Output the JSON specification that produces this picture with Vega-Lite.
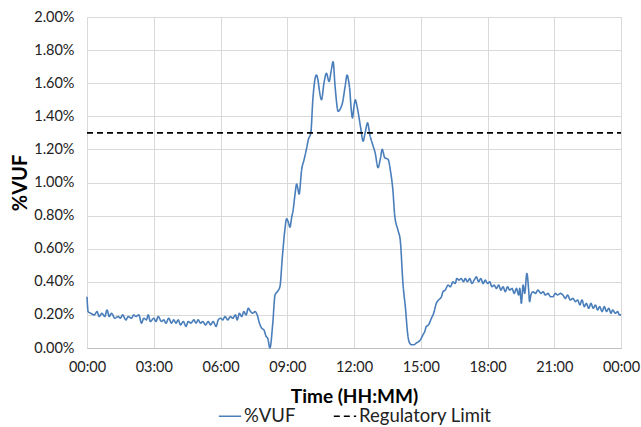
{
  "$schema": "https://vega.github.io/schema/vega-lite/v6.json",
  "width": 534,
  "height": 331,
  "autosize": {"type": "none"},
  "padding": {"left": 87, "top": 17, "right": 20, "bottom": 79},
  "background": "white",
  "config": {"font": "Lato", "view": {"stroke": null}},
  "data": {"values": [
    {"h":0.00,"v":0.31,"s":"%VUF"},{"h":0.05,"v":0.22,"s":"%VUF"},{"h":0.17,"v":0.21,"s":"%VUF"},{"h":0.33,"v":0.20,"s":"%VUF"},{"h":0.45,"v":0.22,"s":"%VUF"},{"h":0.55,"v":0.19,"s":"%VUF"},{"h":0.67,"v":0.21,"s":"%VUF"},{"h":0.80,"v":0.19,"s":"%VUF"},{"h":0.90,"v":0.23,"s":"%VUF"},{"h":1.00,"v":0.19,"s":"%VUF"},
    {"h":1.10,"v":0.21,"s":"%VUF"},{"h":1.25,"v":0.18,"s":"%VUF"},{"h":1.40,"v":0.19,"s":"%VUF"},{"h":1.50,"v":0.18,"s":"%VUF"},{"h":1.60,"v":0.20,"s":"%VUF"},{"h":1.75,"v":0.17,"s":"%VUF"},{"h":1.85,"v":0.19,"s":"%VUF"},{"h":2.00,"v":0.18,"s":"%VUF"},{"h":2.10,"v":0.20,"s":"%VUF"},{"h":2.20,"v":0.19,"s":"%VUF"},
    {"h":2.33,"v":0.20,"s":"%VUF"},{"h":2.45,"v":0.15,"s":"%VUF"},{"h":2.55,"v":0.18,"s":"%VUF"},{"h":2.67,"v":0.17,"s":"%VUF"},{"h":2.75,"v":0.20,"s":"%VUF"},{"h":2.85,"v":0.16,"s":"%VUF"},{"h":3.00,"v":0.18,"s":"%VUF"},{"h":3.10,"v":0.16,"s":"%VUF"},{"h":3.20,"v":0.19,"s":"%VUF"},{"h":3.35,"v":0.16,"s":"%VUF"},
    {"h":3.45,"v":0.17,"s":"%VUF"},{"h":3.55,"v":0.15,"s":"%VUF"},{"h":3.67,"v":0.18,"s":"%VUF"},{"h":3.80,"v":0.15,"s":"%VUF"},{"h":3.90,"v":0.17,"s":"%VUF"},{"h":4.00,"v":0.15,"s":"%VUF"},{"h":4.10,"v":0.17,"s":"%VUF"},{"h":4.20,"v":0.14,"s":"%VUF"},{"h":4.33,"v":0.16,"s":"%VUF"},{"h":4.45,"v":0.13,"s":"%VUF"},
    {"h":4.55,"v":0.16,"s":"%VUF"},{"h":4.67,"v":0.15,"s":"%VUF"},{"h":4.80,"v":0.17,"s":"%VUF"},{"h":4.90,"v":0.15,"s":"%VUF"},{"h":5.00,"v":0.17,"s":"%VUF"},{"h":5.10,"v":0.15,"s":"%VUF"},{"h":5.20,"v":0.16,"s":"%VUF"},{"h":5.33,"v":0.14,"s":"%VUF"},{"h":5.45,"v":0.16,"s":"%VUF"},{"h":5.55,"v":0.14,"s":"%VUF"},
    {"h":5.67,"v":0.16,"s":"%VUF"},{"h":5.80,"v":0.13,"s":"%VUF"},{"h":5.90,"v":0.17,"s":"%VUF"},{"h":6.00,"v":0.18,"s":"%VUF"},{"h":6.10,"v":0.17,"s":"%VUF"},{"h":6.20,"v":0.19,"s":"%VUF"},{"h":6.33,"v":0.17,"s":"%VUF"},{"h":6.45,"v":0.19,"s":"%VUF"},{"h":6.55,"v":0.18,"s":"%VUF"},{"h":6.67,"v":0.20,"s":"%VUF"},
    {"h":6.75,"v":0.17,"s":"%VUF"},{"h":6.85,"v":0.21,"s":"%VUF"},{"h":6.95,"v":0.19,"s":"%VUF"},{"h":7.05,"v":0.22,"s":"%VUF"},{"h":7.15,"v":0.20,"s":"%VUF"},{"h":7.25,"v":0.24,"s":"%VUF"},{"h":7.35,"v":0.22,"s":"%VUF"},{"h":7.45,"v":0.21,"s":"%VUF"},{"h":7.55,"v":0.22,"s":"%VUF"},{"h":7.65,"v":0.20,"s":"%VUF"},
    {"h":7.75,"v":0.15,"s":"%VUF"},{"h":7.85,"v":0.12,"s":"%VUF"},{"h":7.95,"v":0.11,"s":"%VUF"},{"h":8.05,"v":0.07,"s":"%VUF"},{"h":8.12,"v":0.06,"s":"%VUF"},{"h":8.22,"v":0.00,"s":"%VUF"},{"h":8.35,"v":0.15,"s":"%VUF"},{"h":8.45,"v":0.32,"s":"%VUF"},{"h":8.55,"v":0.34,"s":"%VUF"},{"h":8.67,"v":0.37,"s":"%VUF"},
    {"h":8.78,"v":0.55,"s":"%VUF"},{"h":8.89,"v":0.71,"s":"%VUF"},{"h":8.97,"v":0.78,"s":"%VUF"},{"h":9.05,"v":0.76,"s":"%VUF"},{"h":9.12,"v":0.73,"s":"%VUF"},{"h":9.20,"v":0.79,"s":"%VUF"},{"h":9.26,"v":0.83,"s":"%VUF"},{"h":9.35,"v":0.93,"s":"%VUF"},{"h":9.42,"v":0.99,"s":"%VUF"},{"h":9.48,"v":0.96,"s":"%VUF"},
    {"h":9.53,"v":0.93,"s":"%VUF"},{"h":9.65,"v":1.08,"s":"%VUF"},{"h":9.76,"v":1.14,"s":"%VUF"},{"h":9.86,"v":1.20,"s":"%VUF"},{"h":9.95,"v":1.26,"s":"%VUF"},{"h":10.06,"v":1.30,"s":"%VUF"},{"h":10.15,"v":1.50,"s":"%VUF"},{"h":10.22,"v":1.60,"s":"%VUF"},{"h":10.31,"v":1.65,"s":"%VUF"},{"h":10.38,"v":1.62,"s":"%VUF"},
    {"h":10.45,"v":1.55,"s":"%VUF"},{"h":10.54,"v":1.50,"s":"%VUF"},{"h":10.65,"v":1.60,"s":"%VUF"},{"h":10.76,"v":1.66,"s":"%VUF"},{"h":10.88,"v":1.61,"s":"%VUF"},{"h":10.97,"v":1.67,"s":"%VUF"},{"h":11.06,"v":1.73,"s":"%VUF"},{"h":11.15,"v":1.58,"s":"%VUF"},{"h":11.29,"v":1.43,"s":"%VUF"},{"h":11.40,"v":1.45,"s":"%VUF"},
    {"h":11.48,"v":1.48,"s":"%VUF"},{"h":11.60,"v":1.58,"s":"%VUF"},{"h":11.69,"v":1.65,"s":"%VUF"},{"h":11.75,"v":1.62,"s":"%VUF"},{"h":11.81,"v":1.56,"s":"%VUF"},{"h":11.87,"v":1.45,"s":"%VUF"},{"h":11.93,"v":1.39,"s":"%VUF"},{"h":12.00,"v":1.46,"s":"%VUF"},{"h":12.06,"v":1.50,"s":"%VUF"},{"h":12.12,"v":1.47,"s":"%VUF"},
    {"h":12.18,"v":1.43,"s":"%VUF"},{"h":12.30,"v":1.33,"s":"%VUF"},{"h":12.41,"v":1.25,"s":"%VUF"},{"h":12.50,"v":1.30,"s":"%VUF"},{"h":12.61,"v":1.36,"s":"%VUF"},{"h":12.71,"v":1.29,"s":"%VUF"},{"h":12.86,"v":1.22,"s":"%VUF"},{"h":12.95,"v":1.18,"s":"%VUF"},{"h":13.08,"v":1.09,"s":"%VUF"},{"h":13.18,"v":1.14,"s":"%VUF"},
    {"h":13.27,"v":1.20,"s":"%VUF"},{"h":13.38,"v":1.15,"s":"%VUF"},{"h":13.53,"v":1.14,"s":"%VUF"},{"h":13.65,"v":1.06,"s":"%VUF"},{"h":13.75,"v":0.95,"s":"%VUF"},{"h":13.83,"v":0.80,"s":"%VUF"},{"h":13.98,"v":0.71,"s":"%VUF"},{"h":14.08,"v":0.65,"s":"%VUF"},{"h":14.20,"v":0.39,"s":"%VUF"},{"h":14.32,"v":0.23,"s":"%VUF"},
    {"h":14.40,"v":0.10,"s":"%VUF"},{"h":14.47,"v":0.04,"s":"%VUF"},{"h":14.58,"v":0.02,"s":"%VUF"},{"h":14.70,"v":0.02,"s":"%VUF"},{"h":14.80,"v":0.03,"s":"%VUF"},{"h":14.92,"v":0.04,"s":"%VUF"},{"h":15.03,"v":0.06,"s":"%VUF"},{"h":15.10,"v":0.08,"s":"%VUF"},{"h":15.18,"v":0.10,"s":"%VUF"},{"h":15.25,"v":0.13,"s":"%VUF"},
    {"h":15.35,"v":0.14,"s":"%VUF"},{"h":15.48,"v":0.18,"s":"%VUF"},{"h":15.58,"v":0.21,"s":"%VUF"},{"h":15.70,"v":0.27,"s":"%VUF"},{"h":15.80,"v":0.29,"s":"%VUF"},{"h":15.93,"v":0.31,"s":"%VUF"},{"h":16.00,"v":0.34,"s":"%VUF"},{"h":16.10,"v":0.35,"s":"%VUF"},{"h":16.23,"v":0.38,"s":"%VUF"},{"h":16.33,"v":0.37,"s":"%VUF"},
    {"h":16.45,"v":0.40,"s":"%VUF"},{"h":16.55,"v":0.39,"s":"%VUF"},{"h":16.62,"v":0.42,"s":"%VUF"},{"h":16.72,"v":0.41,"s":"%VUF"},{"h":16.82,"v":0.42,"s":"%VUF"},{"h":16.92,"v":0.40,"s":"%VUF"},{"h":17.00,"v":0.42,"s":"%VUF"},{"h":17.10,"v":0.40,"s":"%VUF"},{"h":17.20,"v":0.42,"s":"%VUF"},{"h":17.30,"v":0.39,"s":"%VUF"},
    {"h":17.40,"v":0.41,"s":"%VUF"},{"h":17.50,"v":0.43,"s":"%VUF"},{"h":17.60,"v":0.40,"s":"%VUF"},{"h":17.70,"v":0.42,"s":"%VUF"},{"h":17.80,"v":0.39,"s":"%VUF"},{"h":17.90,"v":0.41,"s":"%VUF"},{"h":18.00,"v":0.39,"s":"%VUF"},{"h":18.10,"v":0.40,"s":"%VUF"},{"h":18.20,"v":0.37,"s":"%VUF"},{"h":18.30,"v":0.38,"s":"%VUF"},
    {"h":18.40,"v":0.36,"s":"%VUF"},{"h":18.50,"v":0.38,"s":"%VUF"},{"h":18.60,"v":0.35,"s":"%VUF"},{"h":18.70,"v":0.37,"s":"%VUF"},{"h":18.80,"v":0.34,"s":"%VUF"},{"h":18.90,"v":0.37,"s":"%VUF"},{"h":19.00,"v":0.35,"s":"%VUF"},{"h":19.10,"v":0.36,"s":"%VUF"},{"h":19.20,"v":0.33,"s":"%VUF"},{"h":19.30,"v":0.36,"s":"%VUF"},
    {"h":19.40,"v":0.32,"s":"%VUF"},{"h":19.45,"v":0.36,"s":"%VUF"},{"h":19.52,"v":0.27,"s":"%VUF"},{"h":19.60,"v":0.38,"s":"%VUF"},{"h":19.67,"v":0.33,"s":"%VUF"},{"h":19.77,"v":0.45,"s":"%VUF"},{"h":19.85,"v":0.35,"s":"%VUF"},{"h":19.89,"v":0.28,"s":"%VUF"},{"h":19.95,"v":0.32,"s":"%VUF"},{"h":20.04,"v":0.34,"s":"%VUF"},
    {"h":20.15,"v":0.33,"s":"%VUF"},{"h":20.27,"v":0.35,"s":"%VUF"},{"h":20.40,"v":0.33,"s":"%VUF"},{"h":20.50,"v":0.34,"s":"%VUF"},{"h":20.60,"v":0.32,"s":"%VUF"},{"h":20.72,"v":0.33,"s":"%VUF"},{"h":20.83,"v":0.31,"s":"%VUF"},{"h":20.94,"v":0.31,"s":"%VUF"},{"h":21.05,"v":0.33,"s":"%VUF"},{"h":21.15,"v":0.32,"s":"%VUF"},
    {"h":21.28,"v":0.33,"s":"%VUF"},{"h":21.39,"v":0.32,"s":"%VUF"},{"h":21.50,"v":0.30,"s":"%VUF"},{"h":21.60,"v":0.32,"s":"%VUF"},{"h":21.72,"v":0.29,"s":"%VUF"},{"h":21.84,"v":0.30,"s":"%VUF"},{"h":21.95,"v":0.28,"s":"%VUF"},{"h":22.05,"v":0.29,"s":"%VUF"},{"h":22.15,"v":0.26,"s":"%VUF"},{"h":22.25,"v":0.29,"s":"%VUF"},
    {"h":22.35,"v":0.25,"s":"%VUF"},{"h":22.44,"v":0.27,"s":"%VUF"},{"h":22.55,"v":0.24,"s":"%VUF"},{"h":22.65,"v":0.27,"s":"%VUF"},{"h":22.75,"v":0.24,"s":"%VUF"},{"h":22.85,"v":0.26,"s":"%VUF"},{"h":22.95,"v":0.23,"s":"%VUF"},{"h":23.04,"v":0.25,"s":"%VUF"},{"h":23.15,"v":0.22,"s":"%VUF"},{"h":23.25,"v":0.25,"s":"%VUF"},
    {"h":23.35,"v":0.22,"s":"%VUF"},{"h":23.45,"v":0.24,"s":"%VUF"},{"h":23.55,"v":0.21,"s":"%VUF"},{"h":23.63,"v":0.23,"s":"%VUF"},{"h":23.75,"v":0.21,"s":"%VUF"},{"h":23.85,"v":0.22,"s":"%VUF"},{"h":23.93,"v":0.20,"s":"%VUF"},{"h":24.00,"v":0.20,"s":"%VUF"},
    {"h":0,"v":1.3,"s":"Regulatory Limit"},{"h":24,"v":1.3,"s":"Regulatory Limit"}
  ]},
  "mark": {"type": "line", "strokeWidth": 1.6, "interpolate": "monotone"},
  "encoding": {
    "x": {
      "field": "h", "type": "quantitative",
      "scale": {"domain": [0, 24], "nice": false, "zero": false},
      "axis": {
        "title": "Time (HH:MM)", "values": [0,3,6,9,12,15,18,21,24],
        "labelExpr": "(datum.value == 24 ? '00' : format(datum.value, '02d')) + ':00'",
        "labelFlush": false, "labelOverlap": false, "labelBound": false,
        "labelFont": "Lato", "labelFontSize": 14.5, "labelColor": "#222",
        "labelPadding": 12, "ticks": false, "domainColor": "#bfbfbf",
        "gridColor": "#d9d9d9", "grid": true,
        "titleFont": "Lato", "titleFontSize": 19, "titleFontWeight": "bold", "titleColor": "#000", "titlePadding": 14
      }
    },
    "y": {
      "field": "v", "type": "quantitative",
      "scale": {"domain": [0, 2], "nice": false},
      "axis": {
        "title": "%VUF", "values": [0,0.2,0.4,0.6,0.8,1.0,1.2,1.4,1.6,1.8,2.0],
        "labelExpr": "format(datum.value, '.2f') + '%'",
        "labelFlush": false, "labelOverlap": false,
        "labelFont": "Lato", "labelFontSize": 14.5, "labelColor": "#222",
        "labelPadding": 13, "ticks": false, "domain": false,
        "gridColor": "#d9d9d9",
        "titleFont": "Lato", "titleFontSize": 20, "titleFontWeight": "bold", "titleColor": "#000", "titlePadding": 3
      }
    },
    "color": {
      "field": "s", "type": "nominal",
      "scale": {"domain": ["%VUF", "Regulatory Limit"], "range": ["#4a7ebb", "#000000"]},
      "legend": {
        "title": null, "orient": "none", "legendX": 131, "legendY": 387,
        "direction": "horizontal", "symbolType": "stroke", "symbolSize": 500,
        "symbolStrokeWidth": 1.6, "labelFont": "Lato", "labelFontSize": 18.5, "labelColor": "#222",
        "columnPadding": 34, "labelOffset": 2
      }
    },
    "strokeDash": {
      "field": "s", "type": "nominal",
      "scale": {"domain": ["%VUF", "Regulatory Limit"], "range": [[1, 0], [6, 4]]},
      "legend": null
    }
  }
}
